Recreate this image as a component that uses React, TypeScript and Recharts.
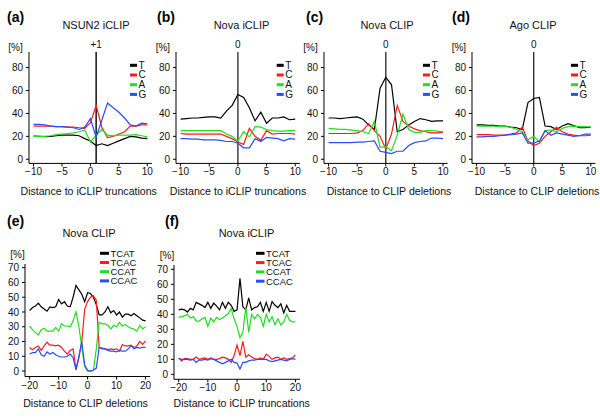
import React from 'react';
import { LineChart, Line, XAxis, YAxis, ReferenceLine } from 'recharts';

const FONT = 'Arial, "Liberation Sans", Helvetica, sans-serif';

// positions
const POS_10 = [-10, -9, -8, -7, -6, -5, -4, -3, -2, -1, 0, 1, 2, 3, 4, 5, 6, 7, 8, 9, 10];
const POS_20 = [-20, -19, -18, -17, -16, -15, -14, -13, -12, -11, -10, -9, -8, -7, -6, -5, -4, -3, -2, -1, 0,
  1, 2, 3, 4, 5, 6, 7, 8, 9, 10, 11, 12, 13, 14, 15, 16, 17, 18, 19, 20];

const NUC_KEYS = ['T', 'C', 'A', 'G'];
const TETRA_KEYS = ['TCAT', 'TCAC', 'CCAT', 'CCAC'];
const COLORS = ['#000000', '#ff1a1a', '#1fe01f', '#2a4cff'];

const X_TICKS_10 = [-10, -5, 0, 5, 10];
const X_TICKS_20 = [-20, -10, 0, 10, 20];
const Y_TICKS_80 = [0, 20, 40, 60, 80];
const Y_TICKS_70 = [0, 10, 20, 30, 40, 50, 60, 70];

// (a) NSUN2 iCLIP
const A_T = [20.3, 20, 19.8, 20, 20.5, 21, 21, 21, 20.5, 18, 16, 12, 13.5, 12, 14, 16, 18, 20, 19.5, 18.5, 18];
const A_C = [29, 29, 29, 29, 28.5, 28.5, 28, 28, 27.5, 27, 32, 47, 28, 19, 20, 22, 24, 29, 29, 30, 30];
const A_A = [20, 20, 20, 20.5, 21.5, 22, 22.5, 23, 24, 25.5, 15, 21, 26, 21, 20.5, 21, 21, 21, 21.5, 20.5, 19.5];
const A_G = [30.5, 30.5, 30, 29, 28.5, 28.5, 28, 27.5, 26, 28, 35.5, 19, 34, 49, 45, 41, 36, 30, 29, 31.5, 31];

// (b) Nova iCLIP
const B_T = [35, 35.5, 36, 36, 36.5, 37, 37, 36, 42, 47, 56.5, 54, 45, 33.5, 41, 31.5, 36, 36, 37, 34.5, 35];
const B_C = [22.5, 22, 22, 22, 22, 22, 22, 22, 20, 18, 15, 13, 27, 20, 16.5, 25, 22, 22.5, 22.5, 22.5, 22];
const B_A = [25, 25, 25, 25, 25, 25, 25, 25, 22, 20, 16, 24, 19.5, 28.5, 28, 26, 25, 24.5, 24.5, 25, 25];
const B_G = [18, 18, 17.5, 17.5, 17, 17, 17, 16.5, 15.5, 15.5, 14, 10, 10, 18, 15.5, 19, 18.5, 18, 16, 18, 17.5];

// (c) Nova CLIP
const C_T = [36, 36, 35.5, 36, 36.5, 37, 35, 30, 26, 62, 71.5, 65, 24, 26, 30, 33, 35.5, 34.5, 33, 33.5, 33.5];
const C_C = [22.5, 22.5, 22.5, 22.5, 22.5, 23, 25, 31, 25, 20, 9, 22, 47, 33, 29, 26.5, 25, 24, 23, 23, 23.5];
const C_A = [27, 26.5, 26, 26, 25.5, 25, 24, 22.5, 33, 10.5, 11, 7.5, 21, 39.5, 26, 23.5, 23.5, 25, 25, 24.5, 24];
const C_G = [14.5, 14.5, 14.5, 14.5, 14.5, 15, 15, 15.5, 16, 7, 6, 5, 7, 7, 12, 14.5, 15.5, 16, 18.5, 18.5, 18];

// (d) Ago CLIP
const D_T = [30, 30, 29.5, 29.5, 29, 29, 28, 27.5, 26, 49.5, 53, 54, 29, 28.5, 26, 29, 31, 29.5, 27.5, 27.5, 28];
const D_C = [21.5, 21.5, 21.5, 21, 21, 21, 22, 23, 28, 16, 12, 14, 20, 24, 28, 24, 22, 21, 20.5, 20.5, 21];
const D_A = [29, 29, 29, 29, 28.5, 28.5, 28, 26, 24, 17, 20, 15, 25, 25.5, 24, 27, 28.5, 29, 28.5, 28.5, 28];
const D_G = [19.5, 19.5, 20, 20, 20.5, 21, 21.5, 22, 23, 14, 14, 16, 25, 21, 23, 22, 21, 20, 20.5, 22, 22];

// (e) Nova CLIP
const E_TCAT = [41, 43, 44, 46, 43.5, 42, 40.5, 43.5, 43, 43.5, 48.5, 45.5, 47, 44, 43.5, 50, 58, 55, 52, 47, 53,
  52.5, 50, 45, 38, 38, 40, 43.5, 39.5, 41, 38, 40, 36.5, 38.5, 38.5, 37.5, 39, 37.5, 36, 34.5, 34];
const E_TCAC = [16, 14.5, 16, 17, 14, 17, 19.5, 17.5, 17.5, 17, 17.5, 16, 13.5, 11.5, 14, 15, 1, 9, 20, 42, 47,
  50, 51, 48, 16, 15, 15, 14.5, 15, 14.5, 15, 13.5, 18, 17, 17, 17.5, 16, 17, 20, 18, 20.5];
const E_CCAT = [30.5, 28, 26, 24.5, 28, 29, 27, 27, 27, 29.5, 27, 32, 30.5, 30.5, 30, 34, 40, 30, 16, 3, 0,
  0, 0.5, 15, 33, 32, 32, 31, 28.5, 31, 30, 33, 30.5, 31.5, 30, 29, 28.5, 27, 31, 28.5, 30];
const E_CCAC = [11.5, 12.5, 12.5, 15, 11, 10, 13, 11.5, 12.5, 11, 10, 9.5, 9.5, 10, 11.5, 9, 1, 10, 20, 4, 0.5,
  0, 0.5, 2, 16, 15.5, 15, 14, 13.5, 13.5, 13, 14, 13.5, 13.5, 15, 17, 15, 16, 15.5, 16, 16];

// (f) Nova iCLIP
const F_TCAT = [43, 43.5, 43, 41.5, 44, 43, 48, 47, 46, 44.5, 48, 44, 47.5, 45.5, 43, 48, 44, 48, 46, 42, 43,
  64, 45, 43, 51, 43, 44.5, 45, 48, 42, 48, 42, 48.5, 46, 44.5, 47, 41, 46, 42, 42, 42];
const F_TCAC = [11, 9, 10.5, 10.5, 10, 10, 11.5, 10, 10.5, 11, 10, 11, 10, 10, 10.5, 11.5, 11, 10, 8, 12.5, 19.5,
  12.5, 22, 11.5, 13, 11.5, 10.5, 10, 11, 10, 13.5, 12, 10, 11, 11.5, 10, 11, 10, 10.5, 11, 13];
const F_CCAT = [38, 38.5, 39, 40, 37.5, 38.5, 35.5, 35.5, 37, 38, 32, 37.5, 35, 38, 36.5, 37.5, 39, 40.5, 44, 37, 32,
  24.5, 28, 45, 28, 40, 37, 40, 38, 32, 40, 35, 38.5, 33, 37, 33, 35, 40, 36, 35, 35];
const F_CCAC = [10.5, 10, 10, 10, 9.5, 10, 8, 9.5, 9.5, 10, 9.5, 10.5, 10, 9, 8, 7, 8, 9, 10, 8, 7.5,
  3.5, 8, 8, 9, 9.5, 9.5, 10, 10, 10, 10, 9, 8.5, 9, 9.5, 10, 9.5, 9, 10, 10.5, 10];

function buildRows(pos: number[], keys: string[], series: number[][]) {
  return pos.map((x, i) => {
    const row: Record<string, number> = { x };
    keys.forEach((k, j) => { row[k] = series[j][i]; });
    return row;
  });
}

const fmt = (v: number) => (v < 0 ? '\u2212' + Math.abs(v) : String(v));

type PanelProps = {
  plotLeft: number; plotTop: number; plotW: number; plotH: number;
  xDomain: [number, number]; yDomain: [number, number];
  xTicks: number[]; yTicks: number[];
  data: Record<string, number>[]; keys: string[];
  refX?: number; refLabel?: string; refColor?: string;
};

function Panel(p: PanelProps) {
  const yw = 30, mt = 14, xh = 24, mr = 4;
  return (
    <div style={{ position: 'absolute', left: p.plotLeft - yw, top: p.plotTop - mt }}>
      <LineChart width={yw + p.plotW + mr} height={mt + p.plotH + xh} data={p.data}
        margin={{ top: mt, right: mr, bottom: 0, left: 0 }}>
        <XAxis dataKey="x" type="number" domain={p.xDomain} ticks={p.xTicks} allowDataOverflow interval={0}
          tickSize={3} tickMargin={2} height={xh} stroke="#000"
          tick={{ fontSize: 10, fill: '#111', fontFamily: FONT }} tickFormatter={fmt} />
        <YAxis type="number" domain={p.yDomain} ticks={p.yTicks} allowDataOverflow interval={0}
          tickSize={3} tickMargin={3} width={yw} stroke="#000"
          tick={{ fontSize: 10, fill: '#111', fontFamily: FONT }} />
        {p.refX !== undefined && (
          <ReferenceLine x={p.refX} stroke={p.refColor || '#000'} strokeWidth={1.4}
            label={{ value: p.refLabel, position: 'top', offset: 4, fontSize: 10, fill: '#111', fontFamily: FONT }} />
        )}
        {p.keys.map((k, i) => (
          <Line key={k} dataKey={k} type="linear" stroke={COLORS[i]} strokeWidth={1.2}
            dot={false} isAnimationActive={false} />
        ))}
      </LineChart>
    </div>
  );
}

const YD_80: [number, number] = [-3.6, 93.6];
const XD_10: [number, number] = [-10.8, 10.8];
const XD_20: [number, number] = [-21.6, 21.6];

const PANELS = [
  { id: '(a)', title: 'NSUN2 iCLIP', xlabel: 'Distance to iCLIP truncations', keys: NUC_KEYS, pos: POS_10,
    series: [A_T, A_C, A_A, A_G], plotLeft: 28.8, plotTop: 51.7, plotW: 122.9, plotH: 111.4,
    xDomain: XD_10, yDomain: YD_80, xTicks: X_TICKS_10, yTicks: Y_TICKS_80, refX: 1, refLabel: '+1', refColor: '#000',
    idX: 7, titleX: 96, xlabelX: 88.7, legX: 130, legY: [65.3, 75, 84.7, 94.4], legLen: 7, legFont: 10, pctRight: true },
  { id: '(b)', title: 'Nova iCLIP', xlabel: 'Distance to iCLIP truncations', keys: NUC_KEYS, pos: POS_10,
    series: [B_T, B_C, B_A, B_G], plotLeft: 176.1, plotTop: 51.7, plotW: 123.8, plotH: 111.4,
    xDomain: XD_10, yDomain: YD_80, xTicks: X_TICKS_10, yTicks: Y_TICKS_80, refX: 0, refLabel: '0', refColor: '#333',
    idX: 157, titleX: 241.5, xlabelX: 238, legX: 276.7, legY: [65.3, 75, 84.7, 94.4], legLen: 7, legFont: 10, pctRight: true },
  { id: '(c)', title: 'Nova CLIP', xlabel: 'Distance to CLIP deletions', keys: NUC_KEYS, pos: POS_10,
    series: [C_T, C_C, C_A, C_G], plotLeft: 323.7, plotTop: 51.7, plotW: 123.6, plotH: 111.4,
    xDomain: XD_10, yDomain: YD_80, xTicks: X_TICKS_10, yTicks: Y_TICKS_80, refX: 0, refLabel: '0', refColor: '#333',
    idX: 306, titleX: 387, xlabelX: 389, legX: 423, legY: [65.3, 75, 84.7, 94.4], legLen: 7, legFont: 10, pctRight: true },
  { id: '(d)', title: 'Ago CLIP', xlabel: 'Distance to CLIP deletions', keys: NUC_KEYS, pos: POS_10,
    series: [D_T, D_C, D_A, D_G], plotLeft: 472.1, plotTop: 51.7, plotW: 123.4, plotH: 111.4,
    xDomain: XD_10, yDomain: YD_80, xTicks: X_TICKS_10, yTicks: Y_TICKS_80, refX: 0, refLabel: '0', refColor: '#333',
    idX: 452, titleX: 533, xlabelX: 537, legX: 571, legY: [65.3, 75, 84.7, 94.4], legLen: 7, legFont: 10, pctRight: true },
  { id: '(e)', title: 'Nova CLIP', xlabel: 'Distance to CLIP deletions', keys: TETRA_KEYS, pos: POS_20,
    series: [E_TCAT, E_TCAC, E_CCAT, E_CCAC], plotLeft: 24.7, plotTop: 264, plotW: 125.2, plotH: 112.5,
    xDomain: XD_20, yDomain: [-3.7, 72.5] as [number, number], xTicks: X_TICKS_20, yTicks: Y_TICKS_70,
    idX: 7, titleX: 89, xlabelX: 85.5, legX: 100, legY: [253.3, 262.5, 271.7, 280.9], legLen: 9, legFont: 9.5, pctRight: false },
  { id: '(f)', title: 'Nova iCLIP', xlabel: 'Distance to iCLIP truncations', keys: TETRA_KEYS, pos: POS_20,
    series: [F_TCAT, F_TCAC, F_CCAT, F_CCAC], plotLeft: 174.3, plotTop: 265, plotW: 126.1, plotH: 114.3,
    xDomain: XD_20, yDomain: [-3.3, 72.9] as [number, number], xTicks: X_TICKS_20, yTicks: Y_TICKS_70,
    idX: 165, titleX: 246.5, xlabelX: 241.7, legX: 256, legY: [253.3, 262.6, 271.9, 281.2], legLen: 8.5, legFont: 9.5, pctRight: false },
];

export default function App() {
  return (
    <div style={{ position: 'absolute', left: 0, top: 0, width: 600, height: 419, background: '#fff', overflow: 'hidden', fontFamily: FONT }}>
      {PANELS.map((P) => (
        <Panel key={P.id} plotLeft={P.plotLeft} plotTop={P.plotTop} plotW={P.plotW} plotH={P.plotH}
          xDomain={P.xDomain} yDomain={P.yDomain} xTicks={P.xTicks} yTicks={P.yTicks}
          data={buildRows(P.pos, P.keys, P.series)} keys={P.keys}
          refX={(P as any).refX} refLabel={(P as any).refLabel} refColor={(P as any).refColor} />
      ))}
      <svg width={600} height={419} style={{ position: 'absolute', left: 0, top: 0, pointerEvents: 'none' }}>
        {PANELS.map((P) => {
          const top = P.plotTop;
          const row1 = top < 100;
          const idY = row1 ? 22 : 226;
          const titleY = row1 ? 29 : 237;
          const xlabY = row1 ? 194.7 : 407;
          return (
            <g key={P.id} fontFamily={FONT}>
              <text x={P.idX} y={idY} fontSize={14} fontWeight="bold" fill="#000">{P.id}</text>
              <text x={P.titleX} y={titleY} fontSize={11} textAnchor="middle" fill="#111">{P.title}</text>
              <text x={P.xlabelX} y={xlabY} fontSize={10.6} textAnchor="middle" fill="#111">{P.xlabel}</text>
              {P.pctRight ? (
                <text x={P.plotLeft - 6} y={top - 1} fontSize={10} textAnchor="end" fill="#111">[%]</text>
              ) : (
                <text x={P.plotLeft} y={top - 6.5} fontSize={10} textAnchor="end" fill="#111">[%]</text>
              )}
              {P.keys.map((k, i) => (
                <g key={k}>
                  <line x1={P.legX} x2={P.legX + P.legLen} y1={P.legY[i]} y2={P.legY[i]} stroke={COLORS[i]} strokeWidth={3} />
                  <text x={P.legX + P.legLen + 1.5} y={P.legY[i] + 3.4} fontSize={P.legFont} fill="#111">{k}</text>
                </g>
              ))}
            </g>
          );
        })}
      </svg>
    </div>
  );
}
